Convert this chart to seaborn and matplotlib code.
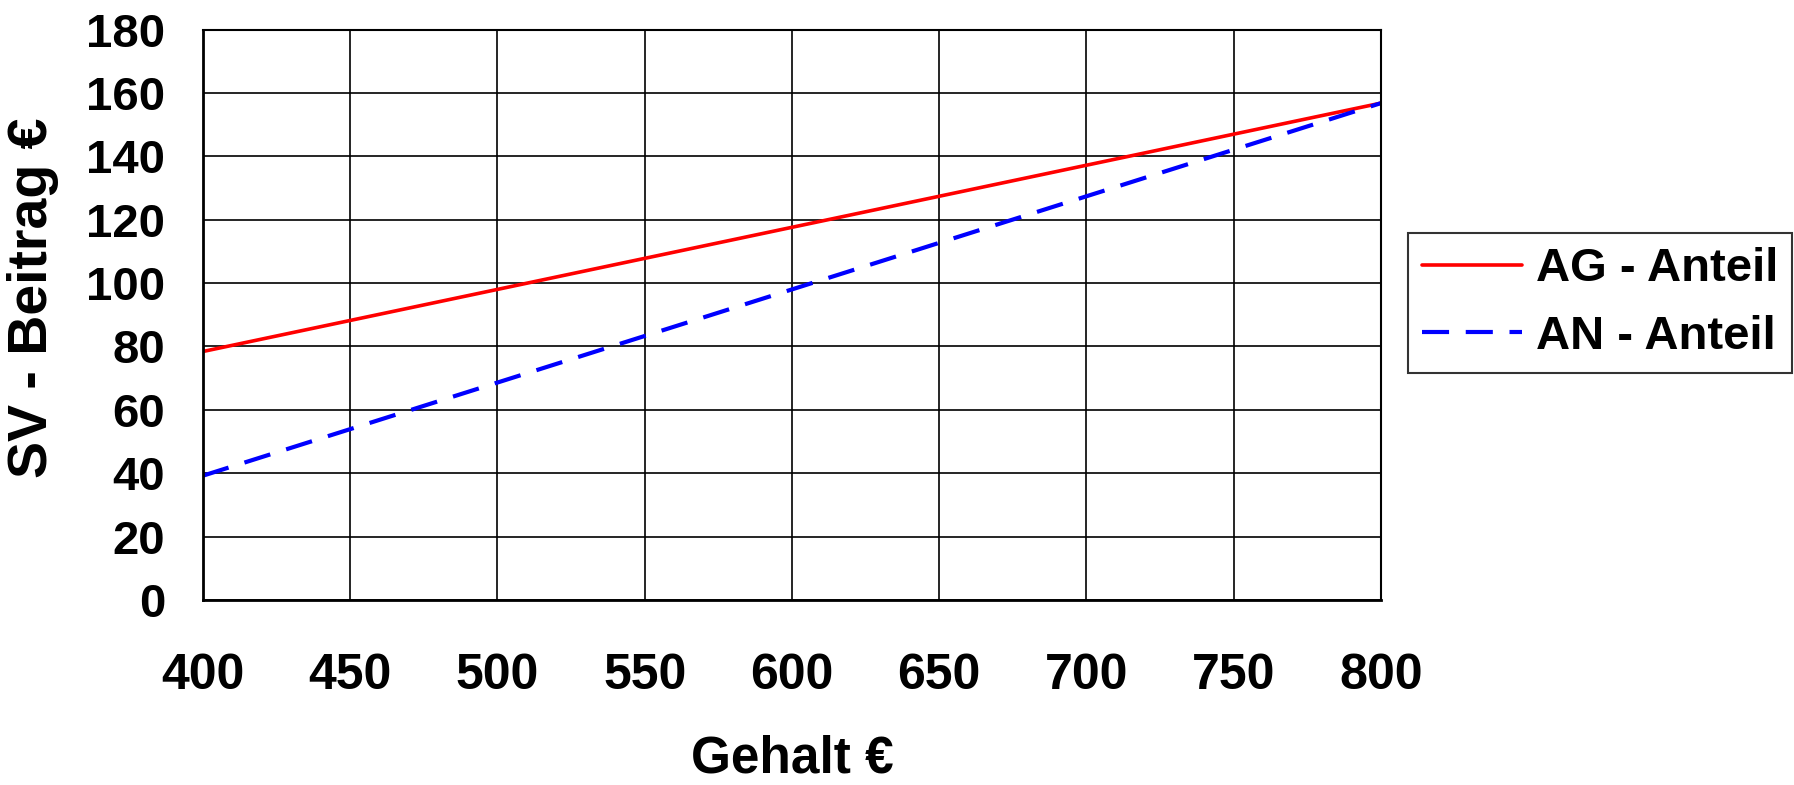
import pandas as pd
import matplotlib.pyplot as plt
import seaborn as sns

# data
gehalt = [400, 450, 500, 550, 600, 650, 700, 750, 800]
ag_anteil = [78.4, 88.2, 98.0, 107.8, 117.6, 127.4, 137.2, 147.0, 156.8]
an_anteil = [39.2, 53.9, 68.6, 83.3, 98.0, 112.7, 127.4, 142.1, 156.8]
y_ticks = [0, 20, 40, 60, 80, 100, 120, 140, 160, 180]

df = pd.DataFrame({'Gehalt': gehalt, 'AG': ag_anteil, 'AN': an_anteil})

sns.set_style('white')
plt.rcParams['font.family'] = ['Liberation Sans', 'DejaVu Sans']
plt.rcParams['font.weight'] = 'bold'
for k in ['text.color', 'axes.labelcolor', 'xtick.color', 'ytick.color']:
    plt.rcParams[k] = 'black'

fig = plt.figure(figsize=(17.94, 7.85), dpi=100)
ax = fig.add_axes([0.113, 0.2357, 0.6568, 0.7266])

sns.lineplot(data=df, x='Gehalt', y='AG', ax=ax, color='#ff0000', lw=2.6,
             label='AG - Anteil')
sns.lineplot(data=df, x='Gehalt', y='AN', ax=ax, color='#0000ff', lw=3.0,
             linestyle=(0, (6.5, 4)), label='AN - Anteil')

ax.set_xlim(400, 800)
ax.set_ylim(0, 180)
ax.set_xticks(gehalt)
ax.set_yticks(y_ticks)
ax.grid(True, color='black', lw=1.2)
ax.set_axisbelow(True)
for s in ax.spines.values():
    s.set_color('black')
    s.set_linewidth(1.5)
ax.spines['left'].set_linewidth(2)
ax.spines['bottom'].set_linewidth(2)

ax.tick_params(axis='y', direction='out', length=11, width=1.3, color='black',
               pad=16, labelsize=34, labelcolor='black')
ax.tick_params(axis='x', direction='out', length=11, width=1.3, color='black',
               pad=27, labelsize=36, labelcolor='black')
for t in ax.get_xticklabels() + ax.get_yticklabels():
    t.set_fontweight('bold')

ax.set_xlabel('Gehalt €', fontsize=37, fontweight='bold', color='black')
ax.set_ylabel('SV - Beitrag €', fontsize=40, fontweight='bold', color='black')
ax.xaxis.set_label_coords(0.5, -0.235)
ax.yaxis.set_label_coords(-0.122, 0.53)

leg = ax.legend(loc='upper left', bbox_to_anchor=(0.785, 0.703),
                bbox_transform=fig.transFigure, fontsize=34, frameon=True,
                fancybox=False, edgecolor='black', handlelength=2.1,
                handletextpad=0.3, borderpad=0.3, labelspacing=0.5,
                borderaxespad=0)
leg.get_frame().set_linewidth(1.5)
for t in leg.get_texts():
    t.set_fontweight('bold')
    t.set_color('black')

plt.savefig('out.png', dpi=100)
